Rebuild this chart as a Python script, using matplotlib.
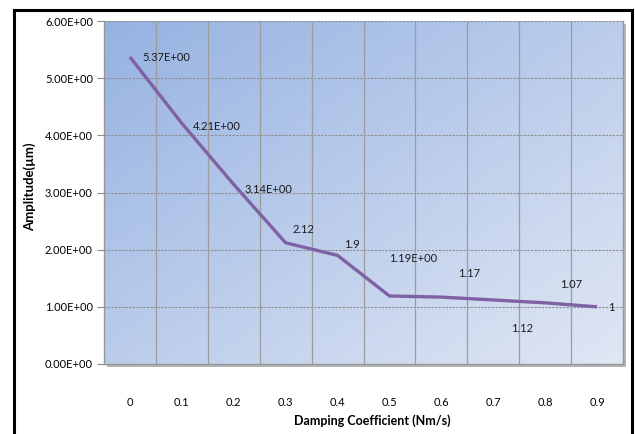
import numpy as np
import matplotlib.pyplot as plt
from matplotlib.patches import Rectangle
from matplotlib.lines import Line2D

# Amplitude vs damping coefficient
damping = ['0', '0.1', '0.2', '0.3', '0.4', '0.5', '0.6', '0.7', '0.8', '0.9']
amplitude = [5.37, 4.21, 3.14, 2.12, 1.9, 1.19, 1.17, 1.12, 1.07, 1.0]
point_labels = ['5.37E+00', '4.21E+00', '3.14E+00', '2.12', '1.9',
                '1.19E+00', '1.17', '1.12', '1.07', '1']
y_ticks = [0, 1, 2, 3, 4, 5, 6]

# label offsets in pixels from each point
LABEL_OFFSETS = [(12, 0), (11, -3), (11, -5), (7, 13), (7, 11),
                 (0, 37), (17, 24), (18, -29), (15, 18), (11, -1)]

FONT = 'Lato'
LINE_COLOR = '#7E62A3'
GRID_COLOR = '#8C8C8C'
VGRID_COLOR = '#9C9C9C'

fig = plt.figure(figsize=(6.35, 4.34), dpi=100)
W, H = 635, 434
left, right, top, bottom = 104, 623, 21, 364
ax = fig.add_axes([left / W, 1 - bottom / H, (right - left) / W, (bottom - top) / H])
ax.set_zorder(2)

# drop shadow behind the plot area
fig.patches.append(Rectangle(((left + 3) / W, 1 - (bottom + 3) / H),
                             (right - left) / W, (bottom - top) / H,
                             transform=fig.transFigure, facecolor='#B5B5B5',
                             edgecolor='none', zorder=-1))

# diagonal gradient fill
gx, gy = np.meshgrid(np.linspace(0, 1, 200), np.linspace(0, 1, 200))
t = (gx + gy) / 2
c0 = np.array([150, 178, 226]) / 255
c1 = np.array([224, 231, 244]) / 255
grad = c0[None, None, :] * (1 - t[..., None]) + c1[None, None, :] * t[..., None]
ax.imshow(grad, extent=[-0.5, 9.5, 0, 6], origin='upper', aspect='auto', zorder=0)

x = np.arange(len(damping))
ax.set_xlim(-0.5, 9.5)
ax.set_ylim(0, 6)

for yv in y_ticks[1:]:
    ax.axhline(yv, color=GRID_COLOR, lw=0.8, ls=(0, (2, 1.2)), zorder=1)
for xv in np.arange(0.5, 9.5, 1):
    ax.axvline(xv, color=VGRID_COLOR, lw=0.9, zorder=1)

ax.plot(x, amplitude, color=LINE_COLOR, lw=2.4, solid_capstyle='butt', zorder=3)

for xi, yi, txt, (dx, dy) in zip(x, amplitude, point_labels, LABEL_OFFSETS):
    ax.annotate(txt, (xi, yi), xytext=(dx, dy), textcoords='offset pixels',
                ha='left', va='center', fontsize=8, family=FONT,
                color='#1A1A1A', zorder=4)

ax.set_xticks(x)
ax.set_xticklabels(damping, fontsize=8, family=FONT)
ax.set_yticks(y_ticks)
ax.set_yticklabels(['%.2fE+00' % v for v in y_ticks], fontsize=8, family=FONT)
ax.tick_params(axis='x', length=0, pad=24)
ax.tick_params(axis='y', length=5, color=GRID_COLOR, pad=3)

for side in ['left', 'bottom', 'right']:
    ax.spines[side].set_color('#969696')
    ax.spines[side].set_linewidth(1.0)
ax.spines['top'].set_visible(False)

fig.text(372 / W, 1 - 421 / H, 'Damping Coefficient (Nm/s)', ha='center',
         va='center', fontsize=9, family=FONT, fontweight='bold')
fig.text(30 / W, 1 - 187 / H, 'Amplitude(\u00b5m)', ha='center', va='center',
         rotation=90, fontsize=9.5, family=FONT, fontweight='bold')

# outer chart frame
for xs, ys in [([14, 14], [10, 440]), ([14, 632], [10, 10]), ([632, 632], [10, 440])]:
    fig.lines.append(Line2D([v / W for v in xs], [1 - v / H for v in ys],
                            transform=fig.transFigure, color='black', lw=2.2))

fig.savefig('out.png', dpi=100)
